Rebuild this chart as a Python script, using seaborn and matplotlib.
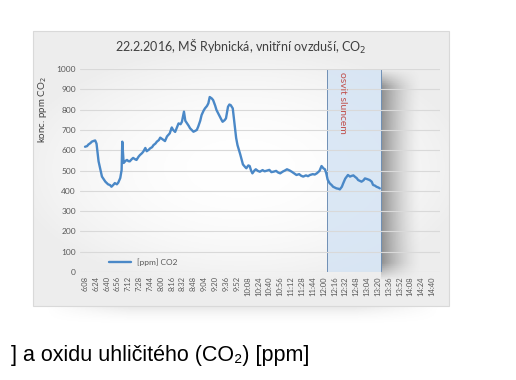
import numpy as np
import pandas as pd
import matplotlib
matplotlib.use('Agg')
import matplotlib.pyplot as plt
import seaborn as sns
from matplotlib.patches import Rectangle

# data (time, ppm CO2)
times = ['6:08', '6:11', '6:13', '6:16', '6:18', '6:21', '6:23', '6:25', '6:28', '6:31',
         '6:33', '6:36', '6:38', '6:42', '6:45', '6:47', '6:50', '6:52', '6:55', '6:57',
         '7:00', '7:02', '7:03', '7:05', '7:08', '7:10', '7:12', '7:14', '7:17', '7:19',
         '7:22', '7:24', '7:27', '7:29', '7:32', '7:34', '7:37', '7:39', '7:42', '7:44',
         '7:47', '7:49', '7:52', '7:54', '7:57', '7:59', '8:02', '8:06', '8:09', '8:13',
         '8:16', '8:18', '8:21', '8:24', '8:26', '8:29', '8:31', '8:34', '8:36', '8:38',
         '8:41', '8:43', '8:46', '8:48', '8:51', '8:53', '8:55', '8:58', '9:00', '9:03',
         '9:05', '9:08', '9:10', '9:12', '9:15', '9:17', '9:20', '9:22', '9:25', '9:27',
         '9:29', '9:31', '9:34', '9:36', '9:39', '9:41', '9:43', '9:46', '9:49', '9:51',
         '9:53', '9:57', '10:01', '10:04', '10:06', '10:09', '10:11', '10:13', '10:15', '10:18',
         '10:20', '10:23', '10:26', '10:30', '10:33', '10:36', '10:40', '10:43', '10:46', '10:50',
         '10:53', '10:56', '11:00', '11:03', '11:06', '11:10', '11:13', '11:16', '11:20', '11:24',
         '11:27', '11:30', '11:34', '11:37', '11:40', '11:44', '11:47', '11:50', '11:54', '11:57',
         '12:00', '12:02', '12:04', '12:06', '12:09', '12:12', '12:14', '12:17', '12:19', '12:22',
         '12:24', '12:27', '12:29', '12:32', '12:36', '12:39', '12:41', '12:44', '12:46', '12:49',
         '12:51', '12:54', '12:56', '12:59', '13:01', '13:04', '13:08', '13:11', '13:13', '13:16',
         '13:18', '13:21', '13:23']
ppm = [617, 620, 628, 635, 642, 646, 648, 632, 545, 500,
       470, 455, 445, 432, 428, 420, 430, 438, 432, 440,
       463, 502, 642, 537, 548, 552, 546, 545, 556, 562,
       555, 552, 568, 576, 585, 593, 611, 595, 602, 609,
       615, 625, 633, 642, 650, 662, 655, 645, 668, 683,
       712, 700, 690, 715, 732, 728, 740, 790, 745, 735,
       720, 708, 698, 691, 696, 700, 716, 745, 773, 795,
       806, 818, 831, 862, 855, 847, 820, 798, 778, 765,
       752, 740, 748, 757, 814, 825, 822, 806, 716, 660,
       625, 580, 530, 518, 511, 525, 522, 500, 486, 500,
       506, 498, 494, 502, 496, 499, 503, 492, 494, 498,
       490, 486, 495, 500, 506, 500, 494, 487, 478, 482,
       474, 470, 476, 472, 478, 482, 480, 486, 498, 522,
       510, 506, 486, 455, 437, 428, 420, 415, 412, 410,
       407, 420, 437, 460, 478, 470, 473, 476, 470, 462,
       453, 448, 445, 452, 461, 458, 453, 445, 429, 425,
       420, 416, 412]

sun_start = '12:05'
sun_end = '13:25'
sun_label_at = '12:28'
tick_labels = ['6:08', '6:24', '6:40', '6:56', '7:12', '7:28', '7:44', '8:00', '8:16',
               '8:32', '8:48', '9:04', '9:20', '9:36', '9:52', '10:08', '10:24', '10:40',
               '10:56', '11:12', '11:28', '11:44', '12:00', '12:16', '12:32', '12:48',
               '13:04', '13:20', '13:36', '13:52', '14:08', '14:24', '14:40']


def to_min(t):
    h, m = t.split(':')
    return int(h) * 60 + int(m) - (6 * 60 + 8)


df = pd.DataFrame({'min': [to_min(t) for t in times], 'ppm': ppm})

sns.set_style('white')
plt.rcParams['font.family'] = ['Lato', 'DejaVu Sans']

W, H = 516, 380
fig = plt.figure(figsize=(W / 100, H / 100), dpi=100)

# background layer in pixel coordinates
bg = fig.add_axes([0, 0, 1, 1], zorder=-1)
bg.set_xlim(0, W)
bg.set_ylim(H, 0)
bg.axis('off')

# soft shadow under the chart frame
yy = np.linspace(0, 1, 40)[:, None]
xx = np.linspace(0, 1, 200)[None, :]
sh = np.zeros((40, 200, 4))
sh[..., :3] = 0.55
sh[..., 3] = 0.25 * (1 - yy) ** 2 * np.clip(np.sin(np.pi * xx) * 1.6, 0, 1)
bg.imshow(sh, extent=[45, 440, 326, 304], aspect='auto', zorder=0)

# chart frame with light gradient
gy, gx = np.mgrid[-1:1:120j, -1:1:200j]
r = np.clip(np.sqrt((gx * 0.9) ** 2 + (gy * 1.1) ** 2), 0, 1)
grad = np.ones((120, 200, 3)) * (1 - 0.07 * r ** 2)[..., None]
bg.imshow(grad, extent=[33, 449, 306, 31], aspect='auto', zorder=1)
bg.add_patch(Rectangle((33, 31), 416, 275, fill=False, ec='#d9d9d9', lw=0.8, zorder=2))

bg.text(11, 356, '] a oxidu uhličitého (CO₂) [ppm]', fontsize=15.5,
        family=['Liberation Sans', 'DejaVu Sans'], va='center', ha='left', color='black')

bg.text(241, 47, '22.2.2016, MŠ Rybnická, vnitřní ovzduší, CO$_2$', fontsize=9,
        color='#404040', ha='center', va='center', zorder=3)

# main plot
ax = fig.add_axes([80 / W, 1 - 272 / H, 360 / W, 203 / H])
ax.set_facecolor('none')

x0, x1 = to_min(sun_start), to_min(sun_end)
ax.add_patch(Rectangle((x0, 0), x1 - x0, 1000, fc=(0.835, 0.894, 0.957, 0.85),
                       ec='#6f8fb5', lw=0.7, zorder=1.5))

# shadow to the right of the sun box
nx = 120
t = np.linspace(0, 1, nx)[None, :]
v = np.linspace(0, 1, 100)[:, None]
shade = np.zeros((100, nx, 4))
shade[..., :3] = 0.3
shade[..., 3] = 0.6 * (1 - t) ** 1.6 * np.clip(np.minimum(v, 1 - v) * 12, 0, 1)
ax.imshow(shade, extent=[x1, x1 + 60, -45, 1000], aspect='auto', zorder=0.5, clip_on=False)

sns.lineplot(data=df, x='min', y='ppm', ax=ax, color='#4a88c7', lw=1.7,
             label='[ppm] CO2', zorder=3)

ax.text(to_min(sun_label_at), 985, 'osvit sluncem', rotation=270, color='#c0504d',
        fontsize=7.5, ha='center', va='top', zorder=4)

ax.set_xlim(-7.4, 523.8)
ax.set_ylim(0, 1000)
ax.set_yticks(range(0, 1001, 100))
ax.set_xticks([to_min(t) for t in tick_labels])
ax.set_xticklabels(tick_labels, rotation=90, fontsize=5.5, color='#595959')
ax.tick_params(axis='y', labelsize=6, labelcolor='#595959', length=0, pad=3)
ax.tick_params(axis='x', length=0, pad=3)
ax.grid(axis='y', color='#d9d9d9', lw=0.8, zorder=1)
ax.set_axisbelow(False)
for s in ax.spines.values():
    s.set_visible(False)

ax.set_xlabel('')
ax.set_ylabel('konc. ppm CO$_2$', fontsize=7, color='#404040')
ax.yaxis.set_label_coords(-0.085, 0.8)

ax.legend(loc='center left', bbox_to_anchor=(0.06, 0.05), frameon=False,
          fontsize=6, handlelength=2.6, labelcolor='#595959')

fig.savefig('out.png', dpi=100)
